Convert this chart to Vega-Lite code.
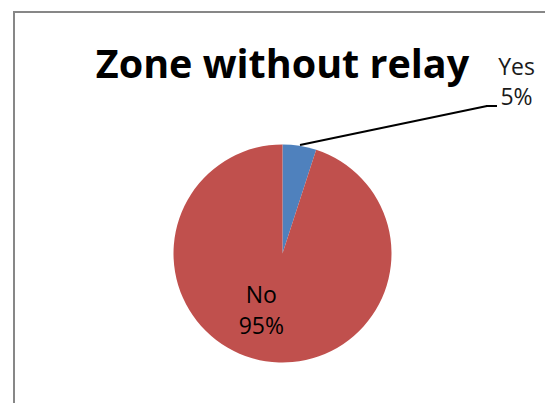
{
  "$schema": "https://vega.github.io/schema/vega-lite/v6.json",
  "autosize": {"type": "none"},
  "width": 537,
  "height": 483,
  "padding": {"left": 14, "top": 12, "right": 0, "bottom": 0},
  "background": "white",
  "config": {
    "view": {"stroke": "#878787", "strokeWidth": 2},
    "font": "Open Sans"
  },
  "title": {
    "text": "Zone without relay",
    "font": "Open Sans",
    "fontSize": 39.5,
    "fontWeight": "bold",
    "color": "#000000",
    "anchor": "middle",
    "frame": "group",
    "baseline": "alphabetic",
    "offset": -65,
    "dy": 40
  },
  "data": {
    "values": [
      {"answer": "Yes", "value": 5},
      {"answer": "No", "value": 95}
    ]
  },
  "transform": [
    {"calculate": "datum.answer + '\\n' + datum.value + '%'", "as": "label"}
  ],
  "encoding": {
    "theta": {"field": "value", "type": "quantitative", "stack": true},
    "order": {"field": "answer", "sort": "descending"}
  },
  "layer": [
    {
      "mark": {"type": "arc", "outerRadius": 109},
      "encoding": {
        "color": {
          "field": "answer",
          "type": "nominal",
          "scale": {"domain": ["Yes", "No"], "range": ["#4F81BD", "#C0504D"]},
          "legend": null
        }
      }
    },
    {
      "transform": [{"filter": "datum.answer === 'Yes'"}],
      "mark": {"type": "rule", "color": "#000000", "strokeWidth": 2},
      "encoding": {
        "theta": null,
        "order": null,
        "x": {"value": 286},
        "y": {"value": 133},
        "x2": {"value": 473},
        "y2": {"value": 94}
      }
    },
    {
      "transform": [{"filter": "datum.answer === 'Yes'"}],
      "mark": {"type": "rule", "color": "#000000", "strokeWidth": 2},
      "encoding": {
        "theta": null,
        "order": null,
        "x": {"value": 472},
        "y": {"value": 94},
        "x2": {"value": 483},
        "y2": {"value": 94}
      }
    },
    {
      "transform": [{"filter": "datum.answer === 'Yes'"}],
      "mark": {
        "type": "text",
        "radius": 109,
        "dx": 217,
        "dy": -71,
        "align": "center",
        "baseline": "alphabetic",
        "lineBreak": "\n",
        "lineHeight": 30,
        "fontSize": 23,
        "font": "Open Sans",
        "color": "#1a1a1a"
      },
      "encoding": {"text": {"field": "label", "type": "nominal"}}
    },
    {
      "transform": [{"filter": "datum.answer === 'No'"}],
      "mark": {
        "type": "text",
        "radius": 50,
        "dx": -29,
        "dy": 0,
        "align": "center",
        "baseline": "alphabetic",
        "lineBreak": "\n",
        "lineHeight": 31,
        "fontSize": 23,
        "font": "Open Sans",
        "color": "#000000"
      },
      "encoding": {"text": {"field": "label", "type": "nominal"}}
    }
  ]
}
